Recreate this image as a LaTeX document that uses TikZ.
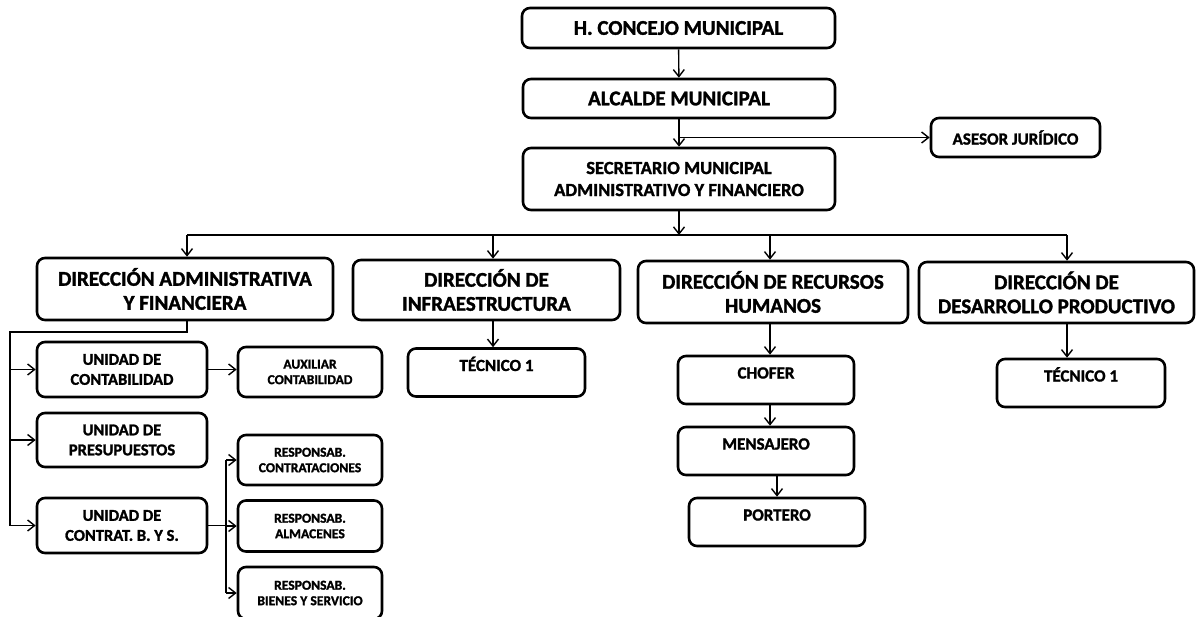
\documentclass[tikz,border=0pt]{standalone}
\usepackage{fontspec}
\setmainfont{Carlito}[BoldFeatures={FakeBold=1.5}]
\usetikzlibrary{arrows.meta}
\begin{document}
\begin{tikzpicture}[x=1pt,y=-1pt,
    >={Straight Barb[length=7pt,width=11pt]},
    box/.style={draw,line width=2.6pt,rounded corners=8pt,align=center,inner sep=2pt},
    bigbox/.style={box,font=\fontsize{21}{24}\bfseries},
    unitbox/.style={box,font=\fontsize{16.5}{20}\bfseries},
    smallbox/.style={box,minimum width=144,font=\fontsize{13.6}{15.5}\bfseries},
    topbox/.style={box,text height=11pt,text depth=14pt,inner ysep=11.5pt,font=\fontsize{17}{19}\bfseries},
    conn/.style={line width=1.4pt}]
  \useasboundingbox (0,0) rectangle (1198,616);
  \node[bigbox,minimum width=313,minimum height=40] (concejo) at (678.5,28) {H. CONCEJO MUNICIPAL};
  \node[bigbox,minimum width=312,minimum height=39] (alcalde) at (679,98.5) {ALCALDE MUNICIPAL};
  \node[box,minimum width=169,minimum height=39,font=\fontsize{17}{19}\bfseries] (asesor) at (1015.5,137.5) {ASESOR JURÍDICO};
  \node[box,minimum width=312,minimum height=62,font=\fontsize{18.5}{22}\bfseries] (secretario) at (679,179) {SECRETARIO MUNICIPAL\\ADMINISTRATIVO Y FINANCIERO};
  \node[bigbox,minimum width=296,minimum height=62] (dadm) at (185,289) {DIRECCIÓN ADMINISTRATIVA\\Y FINANCIERA};
  \node[bigbox,minimum width=267,minimum height=60] (dinf) at (486.5,290) {DIRECCIÓN DE\\INFRAESTRUCTURA};
  \node[bigbox,minimum width=270,minimum height=62] (drh) at (773,292) {DIRECCIÓN DE RECURSOS\\HUMANOS};
  \node[bigbox,minimum width=275,minimum height=61] (ddp) at (1056.5,292.5) {DIRECCIÓN DE\\DESARROLLO PRODUCTIVO};
  \node[topbox,minimum width=177] (tec1) at (496.5,372.5) {TÉCNICO 1};
  \node[topbox,minimum width=176] (chofer) at (766,380) {CHOFER};
  \node[topbox,minimum width=176] (mensajero) at (766,451) {MENSAJERO};
  \node[topbox,minimum width=176] (portero) at (777,522) {PORTERO};
  \node[topbox,minimum width=168] (tec2) at (1081,383) {TÉCNICO 1};
  \node[unitbox,minimum width=170,minimum height=55] (ucont) at (122,369.5) {UNIDAD DE\\CONTABILIDAD};
  \node[unitbox,minimum width=170,minimum height=54] (upres) at (122,440) {UNIDAD DE\\PRESUPUESTOS};
  \node[unitbox,minimum width=170,minimum height=55] (ucbs) at (122,525.5) {UNIDAD DE\\CONTRAT. B. Y S.};
  \node[smallbox,minimum height=50] (auxcont) at (310,372) {AUXILIAR\\CONTABILIDAD};
  \node[smallbox,minimum height=50] (rcont) at (310,460) {RESPONSAB.\\CONTRATACIONES};
  \node[smallbox,minimum height=51] (ralm) at (310,526) {RESPONSAB.\\ALMACENES};
  \node[smallbox,minimum height=52] (rbs) at (310,593) {RESPONSAB.\\BIENES Y SERVICIO};
  \coordinate (br) at (679,137.5);
  \coordinate (b1) at (187,235);
  \coordinate (b2) at (493,235);
  \coordinate (b3) at (770,235);
  \coordinate (b4) at (1067,235);
  \coordinate (tr) at (10,332);
  \coordinate (rb) at (226,0);
  \draw[conn,->] (concejo) -- (alcalde);
  \draw[conn,->] (alcalde) -- (secretario);
  \draw[conn,->] (br) -- (br -| asesor.west);
  \draw[conn,->] (secretario) -- (secretario |- b1);
  \draw[conn] (b1) -- (b4);
  \foreach \p/\d in {b1/dadm,b2/dinf,b3/drh,b4/ddp}
    \draw[conn,->] (\p) -- (\p |- \d.north);
  \draw[conn,->] (b2 |- dinf.south) -- (b2 |- tec1.north);
  \draw[conn,->] (b3 |- drh.south) -- (b3 |- chofer.north);
  \draw[conn,->] (b3 |- chofer.south) -- (b3 |- mensajero.north);
  \draw[conn,->] (portero.north |- mensajero.south) -- (portero);
  \draw[conn,->] (b4 |- ddp.south) -- (b4 |- tec2.north);
  \draw[conn] (b1 |- dadm.south) |- (tr) -- (tr |- ucbs);
  \foreach \u in {ucont,upres,ucbs}
    \draw[conn,->] (tr |- \u) -- (\u);
  \draw[conn,->] (ucont.east) -- (ucont.east -| auxcont.west);
  \draw[conn] (ucbs.east) -- (ucbs.east -| rb);
  \draw[conn] (rb |- rcont) -- (rb |- rbs);
  \foreach \r in {rcont,ralm,rbs}
    \draw[conn,->] (rb |- \r) -- (\r);
\end{tikzpicture}
\end{document}
